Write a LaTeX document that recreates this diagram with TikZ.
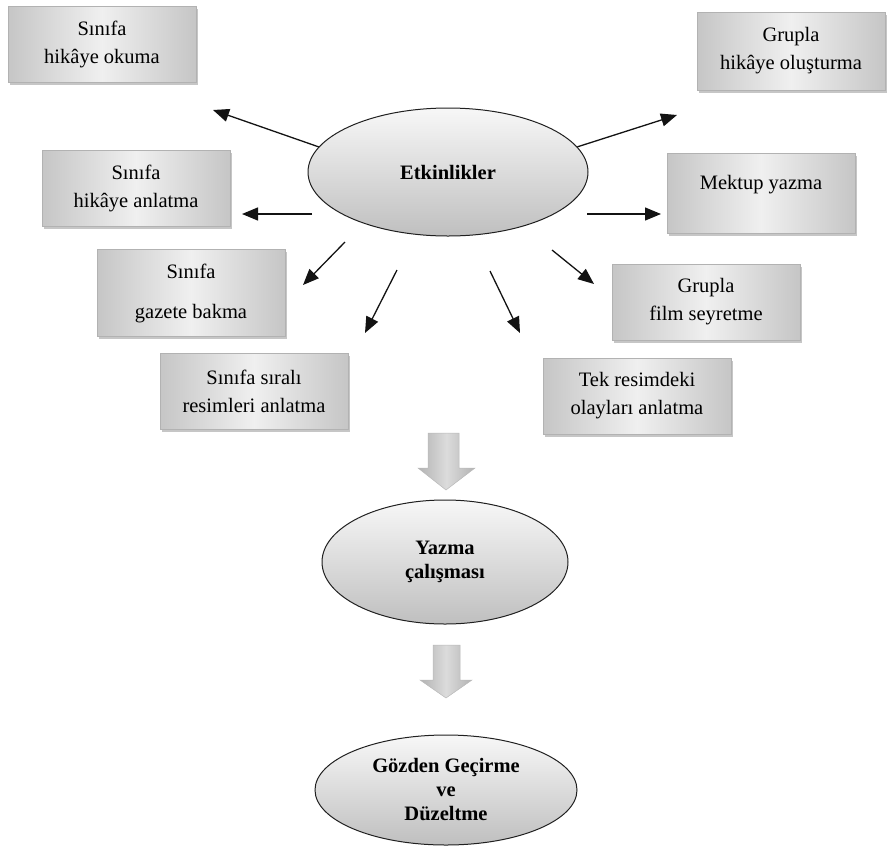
\documentclass[tikz,border=0pt]{standalone}
\usepackage{fontspec}
\setmainfont{Liberation Serif}
\usetikzlibrary{arrows.meta,shapes.geometric,shadows}
\begin{document}
\begin{tikzpicture}[x=1pt,y=-1pt,
    kutu/.style={draw=gray!60,line width=0.6pt,left color=gray!45,right color=gray!45,middle color=gray!12,
      minimum width=188pt,minimum height=76pt,align=center,font=\fontsize{20.5}{28}\selectfont,
      drop shadow={shadow xshift=2pt,shadow yshift=-2.5pt,opacity=0.45}},
    elips/.style={ellipse,draw=gray!25!black,line width=1pt,top color=gray!6,bottom color=gray!50,
      align=center,font=\bfseries\fontsize{20.5}{24}\selectfont,inner sep=0pt},
    ok/.style={-{Triangle[length=16pt,width=13pt]},line width=1.3pt,gray!15!black},
    blok/.style={draw=gray!55,line width=0.5pt,left color=gray!60,right color=gray!60,middle color=gray!28}]
    \useasboundingbox (0,0) rectangle (887,847);

    % ortadaki elipsler
    \node[elips,minimum width=280pt,minimum height=128pt] (etk) at (448,172) {Etkinlikler};
    \node[elips,minimum width=246pt,minimum height=124pt] (yaz) at (445,562) {Yazma\\ çalışması};
    \node[elips,minimum width=262pt,minimum height=110pt] (goz) at (446,790) {Gözden Geçirme\\ ve\\ Düzeltme};

    % etkinlik kutulari
    \node[kutu] (k1) at (102,44) {Sınıfa\\ hikâye okuma};
    \node[kutu] (k2) at (136,188) {Sınıfa\\ hikâye anlatma};
    \node[kutu,minimum height=87pt] (k3) at (191,293) {Sınıfa\\[12pt] gazete bakma};
    \node[kutu] (k4) at (254,391) {Sınıfa sıralı\\ resimleri anlatma};
    \node[kutu,minimum height=78pt] (k5) at (791,51) {Grupla\\ hikâye oluşturma};
    \node[kutu,minimum height=80pt,text depth=22pt] (k6) at (761,193) {Mektup yazma};
    \node[kutu] (k7) at (706,302) {Grupla\\ film seyretme};
    \node[kutu] (k8) at (637,396) {Tek resimdeki\\ olayları anlatma};

    % oklarin serbest uclari
    \coordinate (u2) at (312,214);
    \coordinate (u3) at (345,242);
    \coordinate (u4) at (397,270);
    \coordinate (u6) at (587,214);
    \coordinate (u7) at (552,250);
    \coordinate (u8) at (490,271);
    \coordinate (c1) at (213,110);
    \coordinate (c2) at (242,214);
    \coordinate (c3) at (303,285);
    \coordinate (c4) at (365,333);
    \coordinate (c5) at (677,115);
    \coordinate (c6) at (661,214);
    \coordinate (c7) at (594,284);
    \coordinate (c8) at (520,333);

    \draw[ok] (etk.169) -- (c1);
    \draw[ok] (u2) -- (c2);
    \draw[ok] (u3) -- (c3);
    \draw[ok] (u4) -- (c4);
    \draw[ok] (etk.11) -- (c5);
    \draw[ok] (u6) -- (c6);
    \draw[ok] (u7) -- (c7);
    \draw[ok] (u8) -- (c8);

    % kalin asagi oklar
    \draw[blok] (428,433) -- (459,433) -- (459,468) -- (475,468) -- (446,490) -- (418,468) -- (428,468) -- cycle;
    \draw[blok] (433,645) -- (460,645) -- (460,680) -- (472,680) -- (446,698) -- (420,680) -- (433,680) -- cycle;
\end{tikzpicture}
\end{document}
